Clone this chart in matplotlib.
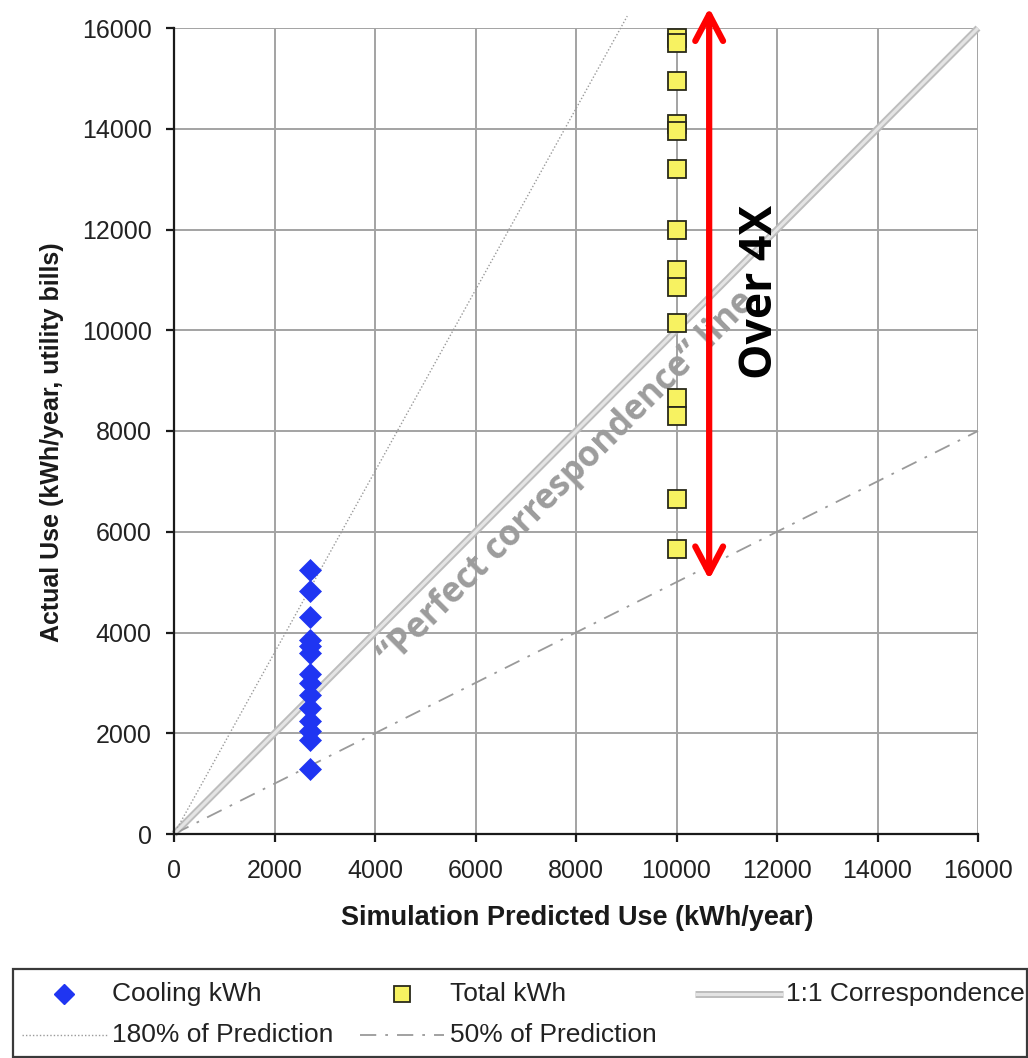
import matplotlib
matplotlib.use("Agg")
import matplotlib.pyplot as plt
from matplotlib.lines import Line2D
from matplotlib.patches import Rectangle
import numpy as np

# ---- data ----
cooling_pred = 2700
cooling_actual = [5250, 4830, 4300, 3850, 3730, 3600, 3180, 3000, 2750, 2500, 2250, 2050, 1870, 1300]
total_pred = 10000
total_actual = [15800, 15700, 14950, 14100, 13950, 13200, 12000, 11200, 10850, 10150, 8650, 8300, 6650, 5650]
ticks = [0, 2000, 4000, 6000, 8000, 10000, 12000, 14000, 16000]
line_1to1_x = [0, 16000]
line_180_x = [0, 9020]
line_50_x = [0, 16000]
arrow_x = 10650
arrow_y = [5050, 16400]

W, H = 1028, 1058
fig = plt.figure(figsize=(W / 100, H / 100), dpi=100)
ax = fig.add_axes([174 / W, 1 - 834 / H, 804 / W, 806 / H])

TXT = "Liberation Sans"
grey_grid = "#a3a3a3"

# reference lines
x1 = np.array(line_1to1_x, dtype=float)
ax.plot(x1, x1, color="#bdbdbd", lw=5.0, solid_capstyle="butt", zorder=2, clip_on=False)
ax.plot(x1, x1, color="#e4e4e4", lw=2.2, solid_capstyle="butt", zorder=2.1, clip_on=False)
x180 = np.array(line_180_x, dtype=float)
ax.plot(x180, 1.8 * x180, color="#9a9a9a", lw=1.0, ls=(0, (1, 1.5)), zorder=2, clip_on=False)
x50 = np.array(line_50_x, dtype=float)
ax.plot(x50, 0.5 * x50, color="#9a9a9a", lw=1.3, ls=(0, (9, 5, 1.5, 5)), zorder=2, clip_on=False)

# scatter
ax.plot([cooling_pred] * len(cooling_actual), cooling_actual, ls="none", marker="D",
        ms=11, mfc="#1f35f2", mec="#1f35f2", mew=0.5, zorder=4)
ax.plot([total_pred] * len(total_actual), total_actual, ls="none", marker="s",
        ms=12.5, mfc="#f7f261", mec="#2a2a1a", mew=1.3, zorder=4)

# axes styling
ax.set_xlim(0, 16000)
ax.set_ylim(0, 16000)
ax.set_xticks(ticks)
ax.set_yticks(ticks)
ax.grid(True, color=grey_grid, lw=1.4)
ax.set_axisbelow(True)
for s in ["top", "right"]:
    ax.spines[s].set_visible(False)
for s in ["left", "bottom"]:
    ax.spines[s].set_linewidth(1.6)
    ax.spines[s].set_color("#1a1a1a")
    ax.spines[s].set_zorder(3)
ax.tick_params(axis="both", direction="out", length=6, width=1.6, color="#1a1a1a",
               labelsize=18, labelcolor="#222222")
ax.tick_params(axis="x", pad=12)
ax.tick_params(axis="y", pad=10)
for lab in ax.get_xticklabels() + ax.get_yticklabels():
    lab.set_family(TXT)

ax.set_xlabel("Simulation Predicted Use (kWh/year)", family=TXT, fontweight="bold",
              fontsize=19.5, color="#1a1a1a")
ax.set_ylabel("Actual Use (kWh/year, utility bills)", family=TXT, fontweight="bold",
              fontsize=18, color="#1a1a1a")
ax.xaxis.set_label_coords((577 - 174) / 804, -(905 - 834) / 806)
ax.yaxis.set_label_coords(-(174 - 64) / 804, (834 - 442) / 806)

# annotations
ax.text(7840, 7040, "\u201cPerfect correspondence\u201d line", rotation=45,
        rotation_mode="anchor", ha="center", va="center", family="Open Sans",
        fontweight="bold", fontsize=25, color="#9c9c9c", zorder=3)
ax.annotate("", xy=(arrow_x, arrow_y[1]), xytext=(arrow_x, arrow_y[0]),
            arrowprops=dict(arrowstyle="<->,head_length=1.9,head_width=1.0",
                            lw=4.5, color="#ff0000", shrinkA=0, shrinkB=0),
            annotation_clip=False, zorder=5)
ax.text(11680, 10760, "Over 4X", rotation=90, ha="center", va="center",
        family="Open Sans", fontweight="bold", fontsize=32, color="black", zorder=5)

# legend (manual, figure coordinates)
def fx(x):
    return x / W

def fy(y):
    return 1 - y / H

fig.patches.append(Rectangle((fx(13), fy(1057)), fx(1027) - fx(13), fy(969) - fy(1057),
                             transform=fig.transFigure, fill=False, ec="#3a3a3a", lw=1.6))
legfs = 19
r1, r2 = 994, 1035
fig.lines.append(Line2D([fx(64)], [fy(r1)], transform=fig.transFigure, ls="none", marker="D",
                        ms=10, mfc="#1f35f2", mec="#1f35f2"))
fig.text(fx(112), fy(r1), "Cooling kWh", family=TXT, fontsize=legfs, va="center", color="#222")
fig.lines.append(Line2D([fx(402)], [fy(r1)], transform=fig.transFigure, ls="none", marker="s",
                        ms=11, mfc="#f7f261", mec="#2a2a1a", mew=1.3))
fig.text(fx(450), fy(r1), "Total kWh", family=TXT, fontsize=legfs, va="center", color="#222")
fig.lines.append(Line2D([fx(695), fx(783)], [fy(r1), fy(r1)], transform=fig.transFigure,
                        color="#bdbdbd", lw=5.0, solid_capstyle="butt"))
fig.lines.append(Line2D([fx(695), fx(783)], [fy(r1), fy(r1)], transform=fig.transFigure,
                        color="#e4e4e4", lw=2.2, solid_capstyle="butt"))
fig.text(fx(786), fy(r1), "1:1 Correspondence", family=TXT, fontsize=legfs, va="center", color="#222")
fig.lines.append(Line2D([fx(22), fx(107)], [fy(r2), fy(r2)], transform=fig.transFigure,
                        color="#9a9a9a", lw=1.0, ls=(0, (1, 1.5))))
fig.text(fx(112), fy(r2), "180% of Prediction", family=TXT, fontsize=legfs, va="center", color="#222")
fig.lines.append(Line2D([fx(360), fx(444)], [fy(r2), fy(r2)], transform=fig.transFigure,
                        color="#9a9a9a", lw=1.3, ls=(0, (9, 5, 1.5, 5))))
fig.text(fx(450), fy(r2), "50% of Prediction", family=TXT, fontsize=legfs, va="center", color="#222")

fig.savefig("out.png", dpi=100)
